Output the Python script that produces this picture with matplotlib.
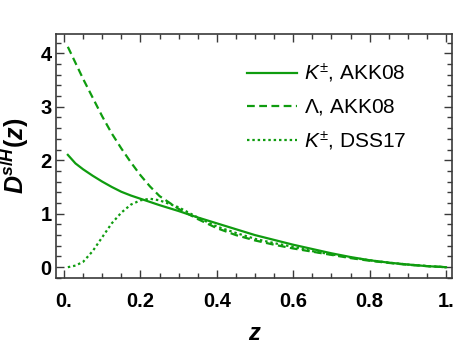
import matplotlib
matplotlib.use('Agg')
import matplotlib.pyplot as plt
from matplotlib.ticker import MultipleLocator, FixedLocator

plt.rcParams['font.family'] = ['Liberation Sans', 'DejaVu Sans']
plt.rcParams['mathtext.fontset'] = 'custom'
plt.rcParams['mathtext.rm'] = 'Liberation Sans'
plt.rcParams['mathtext.it'] = 'Liberation Sans:italic'
plt.rcParams['mathtext.bf'] = 'Liberation Sans:bold'
plt.rcParams['mathtext.bfit'] = 'Liberation Sans:bold:italic'

# valeurs
z = [0.01, 0.03, 0.05, 0.075, 0.1, 0.125, 0.15, 0.175, 0.2, 0.225, 0.25,
     0.3, 0.35, 0.4, 0.45, 0.5, 0.55, 0.6, 0.65, 0.7, 0.75, 0.8, 0.85,
     0.9, 0.95, 1.0]
k_akk08 = [2.10, 1.94, 1.83, 1.71, 1.60, 1.50, 1.41, 1.34, 1.28, 1.22, 1.16,
           1.05, 0.93, 0.82, 0.71, 0.60, 0.51, 0.42, 0.34, 0.26, 0.19, 0.13,
           0.085, 0.05, 0.02, 0.0]
lam_akk08 = [4.12, 3.82, 3.52, 3.17, 2.82, 2.50, 2.22, 1.96, 1.72, 1.51, 1.33,
             1.09, 0.90, 0.73, 0.60, 0.50, 0.42, 0.35, 0.29, 0.23, 0.17, 0.12,
             0.08, 0.045, 0.02, 0.0]
k_dss17 = [0.0, 0.03, 0.10, 0.30, 0.56, 0.82, 1.02, 1.17, 1.25, 1.28, 1.25,
           1.12, 0.93, 0.76, 0.64, 0.53, 0.45, 0.38, 0.30, 0.24, 0.18, 0.13,
           0.085, 0.05, 0.022, 0.0]

labels = [r'$K^{\pm}$, AKK08', r'$\Lambda$, AKK08', r'$K^{\pm}$, DSS17']
xticks = [0, 0.2, 0.4, 0.6, 0.8, 1.0]
xticklabels = ['0.', '0.2', '0.4', '0.6', '0.8', '1.']
yticks = [0, 1, 2, 3, 4]

green = '#0f9c0f'
frame = '#3a3a3a'

fig = plt.figure(figsize=(4.59, 3.54), dpi=100)
ax = fig.add_axes([0.122, 0.215, 0.863, 0.689])

ax.plot(z, k_akk08, color=green, lw=1.6, label=labels[0])
ax.plot(z, lam_akk08, color=green, lw=1.6, dashes=(3.5, 2.0), label=labels[1])
ax.plot(z, k_dss17, color=green, lw=1.6, dashes=(1.1, 1.3), label=labels[2])

ax.set_xlim(-0.021, 1.016)
ax.set_ylim(-0.2, 4.36)

ax.xaxis.set_major_locator(FixedLocator(xticks))
ax.set_xticklabels(xticklabels)
ax.xaxis.set_minor_locator(MultipleLocator(0.05))
ax.yaxis.set_major_locator(FixedLocator(yticks))
ax.yaxis.set_minor_locator(MultipleLocator(0.2))

for lab in ax.get_xticklabels() + ax.get_yticklabels():
    lab.set_fontweight('bold')
    lab.set_fontsize(14.5)

ax.tick_params(which='both', direction='in', top=True, right=True,
               color=frame, width=1.0)
ax.tick_params(which='major', length=6)
ax.tick_params(which='minor', length=3.5)
ax.tick_params(axis='x', which='major', pad=10)
ax.tick_params(axis='y', which='major', pad=3)
for s in ax.spines.values():
    s.set_color(frame)
    s.set_linewidth(1.2)

ax.set_xlabel('z', fontsize=17, fontweight='bold', fontstyle='italic', labelpad=8)
ax.set_ylabel(r'$\mathbfit{D}^{\mathbfit{s}\mathbf{/}\mathbfit{H}}\mathbf{(}\mathbfit{z}\mathbf{)}$',
              fontsize=18, labelpad=7)

ax.legend(loc='upper left', bbox_to_anchor=(0.482, 0.885), frameon=False,
          fontsize=15, handlelength=2.4, handletextpad=0.35,
          labelspacing=0.58, borderpad=0, borderaxespad=0)

fig.savefig('out.png', dpi=100)
